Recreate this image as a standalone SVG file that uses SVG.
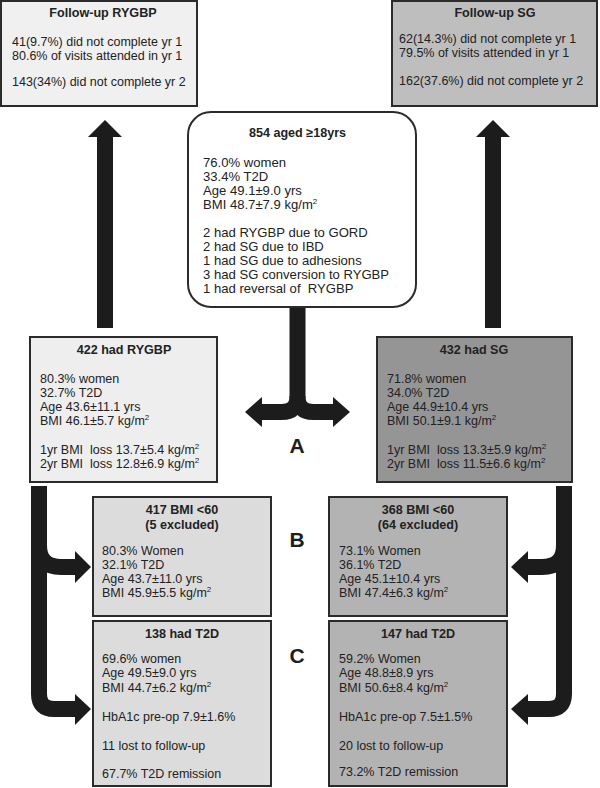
<svg xmlns="http://www.w3.org/2000/svg" width="600" height="788" viewBox="0 0 600 788">
<style>
.box{stroke:#2b2b2b;stroke-width:2}
text{font-family:"Liberation Sans",Arial,sans-serif;font-size:12.5px;fill:#222;white-space:pre}
.h{font-weight:bold;text-anchor:middle;font-size:12.6px}
.c{font-size:13.1px}
.lbl{font-size:21px;font-weight:bold;text-anchor:middle;fill:#1e1e1e}
.conn path{fill:none;stroke:#1c1c1c;stroke-width:16}
.conn polygon{fill:#1c1c1c;stroke:none}
.sup{font-size:8px}
</style>
<rect width="600" height="788" fill="#ffffff"/>
<g class="conn" id="connectors">
  <path d="M105,328 V135"/>
  <polygon points="88,137 105,120 122,137"/>
  <path d="M493,328 V135"/>
  <polygon points="476,137 493,120 510,137"/>
  <path d="M297.5,306 V396 Q297.5,412 281.5,412 H260"/>
  <path d="M297.5,396 Q297.5,412 313.5,412 H335"/>
  <polygon points="262,397 245,412 262,427"/>
  <polygon points="333,397 350,412 333,427"/>
  <path d="M39,486 V694 Q39,709 54,709 H77"/>
  <path d="M39,545 Q39,567 61,567 H77"/>
  <polygon points="75,551 91,567 75,583"/>
  <polygon points="75,694 91,709 75,725"/>
  <path d="M564,486 V694 Q564,709 549,709 H526"/>
  <path d="M564,545 Q564,567 542,567 H526"/>
  <polygon points="528,551 511,567 528,583"/>
  <polygon points="528,694 511,709 528,725"/>
</g>
<g id="follow-rygbp">
  <rect class="box" x="1" y="1" width="196" height="105" fill="#f0f0f0"/>
  <text class="h" x="103" y="17">Follow-up RYGBP</text>
  <text x="12" y="46">41(9.7%) did not complete yr 1</text>
  <text x="12" y="60">80.6% of visits attended in yr 1</text>
  <text x="12" y="86">143(34%) did not complete yr 2</text>
</g>
<g id="follow-sg">
  <rect class="box" x="392" y="1" width="205" height="105" fill="#bebebe"/>
  <text class="h" x="495" y="17">Follow-up SG</text>
  <text x="399" y="43">62(14.3%) did not complete yr 1</text>
  <text x="399" y="57">79.5% of visits attended in yr 1</text>
  <text x="399" y="85">162(37.6%) did not complete yr 2</text>
</g>
<g id="aged18">
  <rect class="box" x="188" y="112" width="228" height="195" rx="23" fill="#ffffff"/>
  <text class="h" x="297.5" y="137">854 aged ≥18yrs</text>
  <text class="c" x="203" y="166.5">76.0% women</text>
  <text class="c" x="203" y="180.5">33.4% T2D</text>
  <text class="c" x="203" y="195">Age 49.1±9.0 yrs</text>
  <text class="c" x="203" y="209">BMI 48.7±7.9 kg/m<tspan class="sup" dy="-5">2</tspan></text>
  <text class="c" x="203" y="236.5">2 had RYGBP due to GORD</text>
  <text class="c" x="203" y="250.5">2 had SG due to IBD</text>
  <text class="c" x="203" y="265">1 had SG due to adhesions</text>
  <text class="c" x="203" y="279">3 had SG conversion to RYGBP</text>
  <text class="c" x="203" y="293">1 had reversal of  RYGBP</text>
</g>
<g id="rygbp">
  <rect class="box" x="30" y="337" width="187" height="145" fill="#eeeeee"/>
  <text class="h" x="124" y="354">422 had RYGBP</text>
  <text x="40" y="383">80.3% women</text>
  <text x="40" y="397">32.7% T2D</text>
  <text x="40" y="411">Age 43.6±11.1 yrs</text>
  <text x="40" y="425">BMI 46.1±5.7 kg/m<tspan class="sup" dy="-5">2</tspan></text>
  <text x="40" y="453.5">1yr BMI  loss 13.7±5.4 kg/m<tspan class="sup" dy="-5">2</tspan></text>
  <text x="40" y="467.5">2yr BMI  loss 12.8±6.9 kg/m<tspan class="sup" dy="-5">2</tspan></text>
</g>
<g id="sg">
  <rect class="box" x="377" y="337" width="195" height="145" fill="#959595"/>
  <text class="h" x="474" y="354">432 had SG</text>
  <text x="387" y="383">71.8% women</text>
  <text x="387" y="397">34.0% T2D</text>
  <text x="387" y="411">Age 44.9±10.4 yrs</text>
  <text x="387" y="425">BMI 50.1±9.1 kg/m<tspan class="sup" dy="-5">2</tspan></text>
  <text x="387" y="453.5">1yr BMI  loss 13.3±5.9 kg/m<tspan class="sup" dy="-5">2</tspan></text>
  <text x="387" y="467.5">2yr BMI  loss 11.5±6.6 kg/m<tspan class="sup" dy="-5">2</tspan></text>
</g>
<g id="rygbp-bmi60">
  <rect class="box" x="93" y="497" width="178" height="119" fill="#dcdcdc"/>
  <text class="h" x="182" y="513.5">417 BMI &lt;60</text>
  <text class="h" x="182" y="529">(5 excluded)</text>
  <text x="102" y="555">80.3% Women</text>
  <text x="102" y="569">32.1% T2D</text>
  <text x="102" y="583">Age 43.7±11.0 yrs</text>
  <text x="102" y="597">BMI 45.9±5.5 kg/m<tspan class="sup" dy="-5">2</tspan></text>
</g>
<g id="sg-bmi60">
  <rect class="box" x="329" y="497" width="178" height="119" fill="#b3b3b3"/>
  <text class="h" x="418" y="513.5">368 BMI &lt;60</text>
  <text class="h" x="418" y="529">(64 excluded)</text>
  <text x="339" y="555">73.1% Women</text>
  <text x="339" y="569">36.1% T2D</text>
  <text x="339" y="583">Age 45.1±10.4 yrs</text>
  <text x="339" y="597">BMI 47.4±6.3 kg/m<tspan class="sup" dy="-5">2</tspan></text>
</g>
<g id="rygbp-t2d">
  <rect class="box" x="93" y="621" width="178" height="165" fill="#dcdcdc"/>
  <text class="h" x="182" y="638">138 had T2D</text>
  <text x="102" y="663">69.6% women</text>
  <text x="102" y="677">Age 49.5±9.0 yrs</text>
  <text x="102" y="691.5">BMI 44.7±6.2 kg/m<tspan class="sup" dy="-5">2</tspan></text>
  <text x="102" y="720.5">HbA1c pre-op 7.9±1.6%</text>
  <text x="102" y="750">11 lost to follow-up</text>
  <text x="102" y="778">67.7% T2D remission</text>
</g>
<g id="sg-t2d">
  <rect class="box" x="329" y="621" width="178" height="165" fill="#b3b3b3"/>
  <text class="h" x="418" y="638">147 had T2D</text>
  <text x="339" y="663">59.2% Women</text>
  <text x="339" y="677">Age 48.8±8.9 yrs</text>
  <text x="339" y="691.5">BMI 50.6±8.4 kg/m<tspan class="sup" dy="-5">2</tspan></text>
  <text x="339" y="720.5">HbA1c pre-op 7.5±1.5%</text>
  <text x="339" y="750">20 lost to follow-up</text>
  <text x="339" y="776">73.2% T2D remission</text>
</g>
<g id="labels">
  <text class="lbl" x="297" y="453">A</text>
  <text class="lbl" x="297" y="547">B</text>
  <text class="lbl" x="297" y="663">C</text>
</g>
</svg>
